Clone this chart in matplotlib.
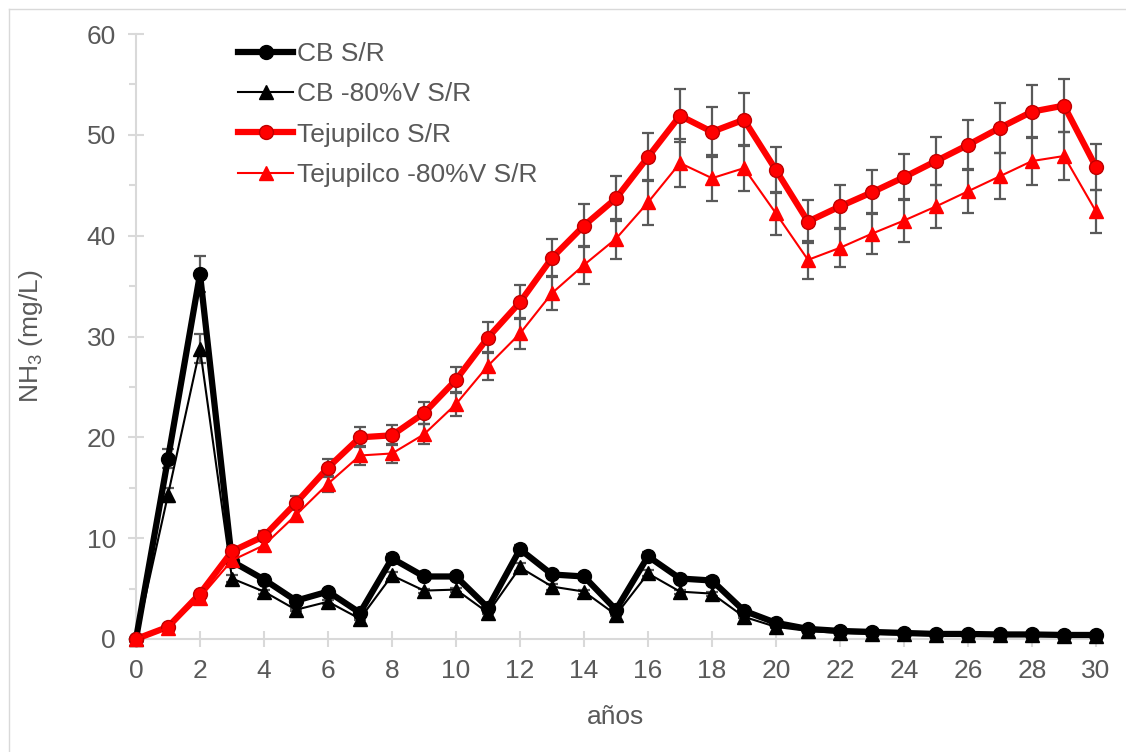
import matplotlib
matplotlib.use('Agg')
import matplotlib.pyplot as plt
from matplotlib.lines import Line2D
from matplotlib.ticker import MultipleLocator

plt.rcParams['font.family'] = ['Liberation Sans', 'DejaVu Sans']
plt.rcParams['mathtext.fontset'] = 'custom'
plt.rcParams['mathtext.rm'] = 'Liberation Sans'
plt.rcParams['mathtext.it'] = 'Liberation Sans:italic'
plt.rcParams['mathtext.default'] = 'regular'

years = list(range(31))

cb_sr = [0, 17.9, 36.2, 7.7, 5.9, 3.8, 4.7, 2.6, 8.0, 6.2, 6.2, 3.1, 8.9, 6.4, 6.2, 2.9,
         8.2, 6.0, 5.8, 2.8, 1.6, 1.0, 0.8, 0.7, 0.6, 0.5, 0.5, 0.45, 0.45, 0.4, 0.4]
cb_sr_err = [0, 0.9, 1.8, 0.4, 0.3, 0.2, 0.2, 0.1, 0.4, 0.3, 0.3, 0.2, 0.4, 0.3, 0.3, 0.1,
             0.4, 0.3, 0.3, 0.1, 0.1, 0.05, 0.04, 0.04, 0.03, 0.03, 0.03, 0.02, 0.02, 0.02, 0.02]

cb_80 = [0, 14.3, 28.8, 6.0, 4.7, 2.9, 3.7, 2.0, 6.3, 4.8, 4.9, 2.6, 7.1, 5.2, 4.7, 2.4,
         6.5, 4.7, 4.5, 2.2, 1.2, 0.8, 0.6, 0.5, 0.45, 0.4, 0.4, 0.35, 0.35, 0.3, 0.3]
cb_80_err = [0, 0.7, 1.4, 0.3, 0.2, 0.1, 0.2, 0.1, 0.3, 0.2, 0.2, 0.1, 0.4, 0.3, 0.2, 0.1,
             0.3, 0.2, 0.2, 0.1, 0.1, 0.04, 0.03, 0.03, 0.02, 0.02, 0.02, 0.02, 0.02, 0.02, 0.02]

tej_sr = [0, 1.2, 4.5, 8.7, 10.2, 13.5, 17.0, 20.0, 20.2, 22.4, 25.7, 29.9, 33.4, 37.8, 41.0, 43.7,
          47.8, 51.9, 50.3, 51.5, 46.5, 41.4, 42.9, 44.3, 45.8, 47.4, 49.0, 50.7, 52.3, 52.9, 46.8]
tej_sr_err = [0, 0.1, 0.2, 0.4, 0.5, 0.7, 0.9, 1.0, 1.0, 1.1, 1.3, 1.5, 1.7, 1.9, 2.1, 2.2,
              2.4, 2.6, 2.5, 2.6, 2.3, 2.1, 2.1, 2.2, 2.3, 2.4, 2.5, 2.5, 2.6, 2.6, 2.3]

tej_80 = [0, 1.1, 4.1, 7.8, 9.3, 12.3, 15.4, 18.2, 18.4, 20.3, 23.3, 27.1, 30.3, 34.3, 37.1, 39.7,
          43.3, 47.2, 45.7, 46.7, 42.2, 37.6, 38.8, 40.2, 41.5, 42.9, 44.4, 45.9, 47.4, 47.9, 42.4]
tej_80_err = [0, 0.1, 0.2, 0.4, 0.5, 0.6, 0.8, 0.9, 0.9, 1.0, 1.2, 1.4, 1.5, 1.7, 1.9, 2.0,
              2.2, 2.4, 2.3, 2.3, 2.1, 1.9, 1.9, 2.0, 2.1, 2.1, 2.2, 2.3, 2.4, 2.4, 2.1]

labels = ['CB S/R', 'CB -80%V S/R', 'Tejupilco S/R', 'Tejupilco -80%V S/R']

GRAY = '#595959'
AXIS = '#D9D9D9'
FS = 19

fig = plt.figure(figsize=(11.26, 7.52), dpi=100)
# chart-area border (left and top edges visible)
fig.add_artist(Line2D([8.5 / 1126, 8.5 / 1126], [0, 1 - 8.5 / 752], transform=fig.transFigure,
                      color=AXIS, lw=1))
fig.add_artist(Line2D([8.5 / 1126, 1], [1 - 8.5 / 752, 1 - 8.5 / 752], transform=fig.transFigure,
                      color=AXIS, lw=1))
ax = fig.add_axes([136 / 1126, 113 / 752, 960 / 1126, 605 / 752])

series = [
    (cb_sr, cb_sr_err, 'black', 4.5, 'o', 10, 'black'),
    (cb_80, cb_80_err, 'black', 1.5, '^', 9.5, 'black'),
    (tej_sr, tej_sr_err, '#FF0000', 4.5, 'o', 10, '#C00000'),
    (tej_80, tej_80_err, '#FF0000', 1.5, '^', 9.5, '#FF0000'),
]

handles = []
for i, (vals, err, col, lw, mk, ms, mec) in enumerate(series):
    ax.errorbar(years, vals, yerr=err, fmt='none', ecolor=GRAY, elinewidth=1.6,
                capsize=4.5, capthick=1.6, zorder=2 + i * 0.1, clip_on=False)
    ax.plot(years, vals, color=col, lw=lw, marker=mk, ms=ms, mfc=col, mec=mec, mew=1,
            zorder=3 + i * 0.1, clip_on=False, solid_joinstyle='round')
    handles.append(Line2D([], [], color=col, lw=lw, marker=mk, ms=ms, mfc=col, mec=mec, mew=1))

ax.set_xlim(0, 30)
ax.set_ylim(0, 60)
ax.xaxis.set_major_locator(MultipleLocator(2))
ax.yaxis.set_major_locator(MultipleLocator(10))
ax.yaxis.set_minor_locator(MultipleLocator(5))

for s in ['top', 'right']:
    ax.spines[s].set_visible(False)
for s in ['left', 'bottom']:
    ax.spines[s].set_color(AXIS)
    ax.spines[s].set_linewidth(1.5)

ax.tick_params(axis='both', which='major', direction='inout', length=11, width=1.5,
               color=AXIS, labelcolor=GRAY, labelsize=FS, pad=9)
ax.tick_params(axis='y', which='minor', direction='out', length=5, width=1.5, color=AXIS)

ax.set_xlabel('años', fontsize=FS, color=GRAY, labelpad=16)
ax.set_ylabel('NH$_3$ (mg/L)', fontsize=FS, color=GRAY, labelpad=30)

leg = fig.legend(handles, labels, loc='upper left', bbox_to_anchor=(238 / 1126, 1 - 42 / 752),
                 frameon=False, fontsize=FS, handlelength=2.1, handletextpad=0.15,
                 labelspacing=0.62, borderpad=0, borderaxespad=0)
for t in leg.get_texts():
    t.set_color(GRAY)

fig.savefig('out.png', dpi=100)
